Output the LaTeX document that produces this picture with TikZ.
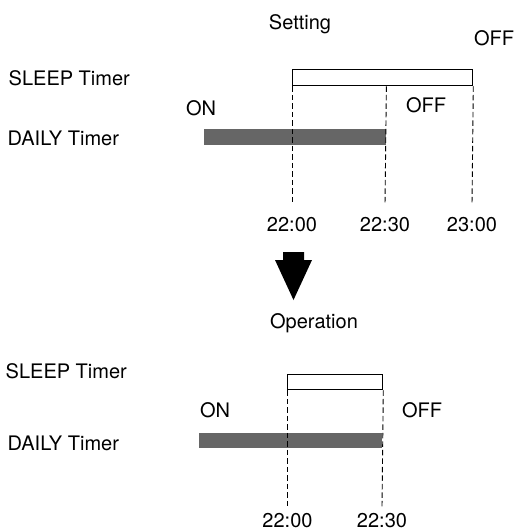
\documentclass[tikz,border=0pt]{standalone}
\usepackage{fontspec}
\setmainfont{TeX Gyre Heros}
\usepackage{tikz}
\usetikzlibrary{positioning}

\begin{document}
\begin{tikzpicture}[x=1pt,y=-1pt,font=\fontsize{20}{24}\selectfont,
  lbl/.style={inner sep=0pt},
  rowlbl/.style={inner sep=0pt,anchor=west},
  sleepbar/.style={draw,line width=1.3pt,fill=white,inner sep=0pt,anchor=north west},
  dailybar/.style={fill=black!60,inner sep=0pt,anchor=north west},
  guide/.style={black,line width=0.9pt,dash pattern=on 5.5pt off 3pt},
]
\useasboundingbox (0,0) rectangle (516,531);

\node[lbl,anchor=base] (set) at (300,29) {Setting};
\node[lbl] (offA) at (494,38) {OFF};
\node[rowlbl] (sleepLblA) at (8.5,78) {SLEEP Timer};
\node[lbl] (onA) at (201,108) {ON};
\node[lbl] (offB) at (426,105) {OFF};
\node[rowlbl] (dailyLblA) at (7.5,138) {DAILY Timer};
\node[sleepbar,minimum width=180pt,minimum height=16pt] (sleepA) at (292,69) {};
\node[dailybar,minimum width=182pt,minimum height=16pt] (dailyA) at (204,129) {};
\node[lbl] (tA1) at (292,225) {22:00};
\node[lbl] (tA2) at (385,225) {22:30};
\node[lbl] (tA3) at (472,225) {23:00};
\coordinate (gA1) at (292,205);
\coordinate (gA2) at (385,205);
\coordinate (gA3) at (472,205);
\draw[guide] (sleepA.south west) -- (gA1);
\draw[guide] (sleepA.south -| dailyA.east) -- (gA2);
\draw[guide] (sleepA.south east) -- (gA3);

\fill (283,252) -- (304,252) -- (304,260) -- (312,260) -- (293.5,300) -- (275,260) -- (283,260) -- cycle;

\node[lbl,anchor=base] (oper) at (314,328) {Operation};
\node[rowlbl] (sleepLblB) at (5.5,371) {SLEEP Timer};
\node[lbl] (onB) at (215,410) {ON};
\node[lbl] (offC) at (422,410) {OFF};
\node[rowlbl] (dailyLblB) at (7.5,443) {DAILY Timer};
\node[sleepbar,minimum width=95pt,minimum height=15pt] (sleepB) at (287,374) {};
\node[dailybar,minimum width=183pt,minimum height=15pt] (dailyB) at (199,433) {};
\node[lbl] (tB1) at (287.5,520.5) {22:00};
\node[lbl] (tB2) at (382,520.5) {22:30};
\coordinate (gB1) at (287,507);
\coordinate (gB2) at (382,507);
\draw[guide] (sleepB.south west) -- (gB1);
\draw[guide] (sleepB.south east) -- (gB2);
\end{tikzpicture}
\end{document}
